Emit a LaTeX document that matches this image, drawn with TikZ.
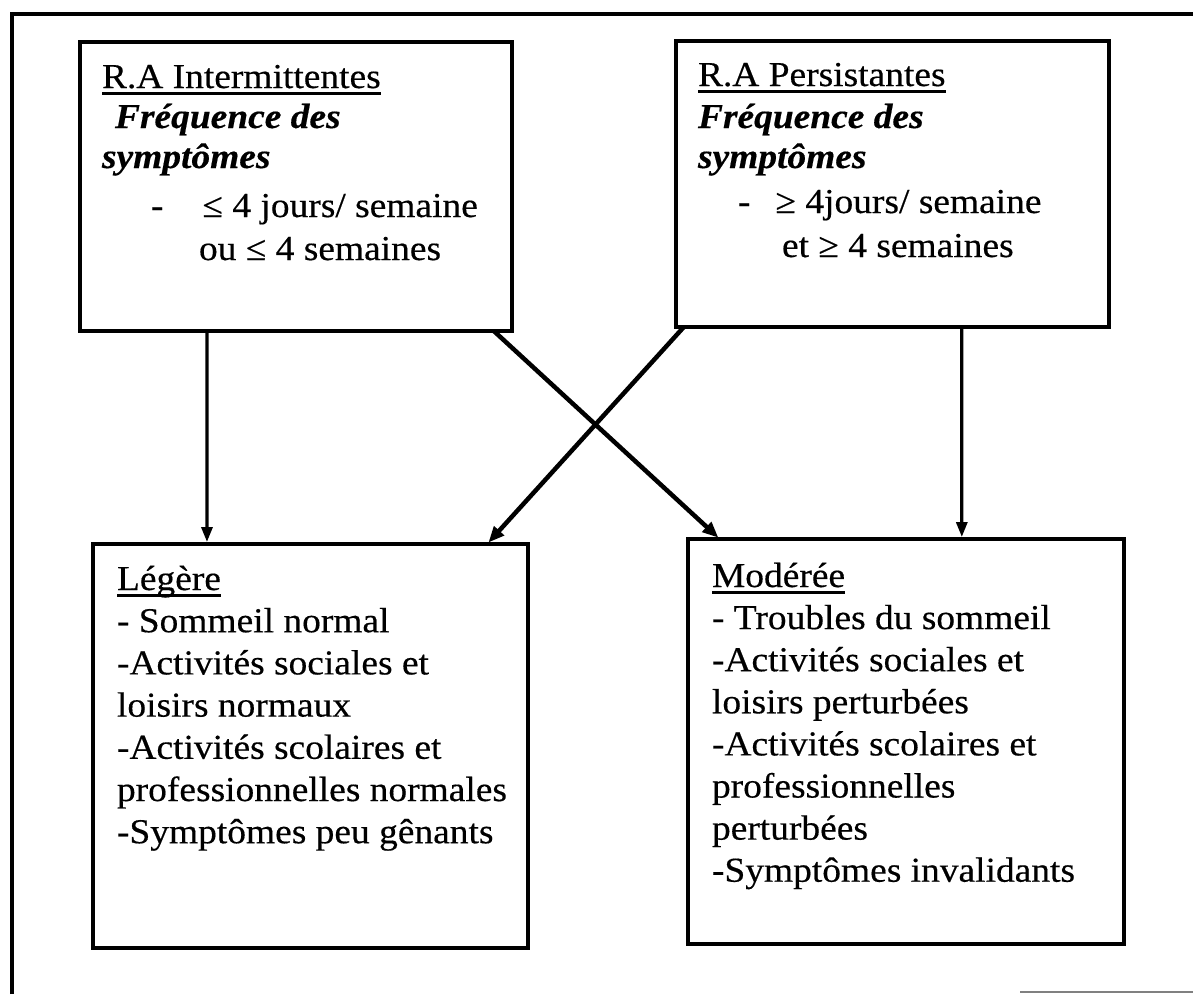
\documentclass[tikz,border=0pt]{standalone}
\usepackage{fontspec}
\setmainfont{Liberation Serif}[FakeStretch=1.07,FakeBold=0.4]
\usetikzlibrary{arrows.meta,calc}
\newsavebox\ulinebox
\newcommand\ulin[1]{\sbox\ulinebox{#1}\rlap{\rule[-6.8pt]{\wd\ulinebox}{3pt}}\usebox\ulinebox}
\tikzset{
  boxnode/.style={draw=black, line width=4pt, fill=none, inner sep=0pt, outer sep=0pt},
  txtnode/.style={anchor=base west, inner sep=0pt, outer sep=0pt, align=left},
  varr/.style={line width=3.2pt, -{Triangle[length=15pt,width=11pt]}, shorten >=2pt},
  darr/.style={line width=4.5pt, -{Triangle[length=16pt,width=13pt]}, shorten >=2pt},
  framel/.style={line width=3.8pt}
}
\begin{document}
\begin{tikzpicture}[x=1pt,y=-1pt]
\useasboundingbox[fill=white] (0,0) rectangle (1193,994);
% outer frame (partially visible)
\draw[framel] (12,994) -- (12,14) -- (1193,14);
\draw[line width=2.5pt, gray] (1020,992) -- (1193,992);

% boxes
\node[boxnode, minimum width=432pt, minimum height=289pt] (TL) at (296,186.5) {};
\node[boxnode, minimum width=433pt, minimum height=286pt] (TR) at (892.5,184) {};
\node[boxnode, minimum width=435pt, minimum height=404pt] (BL) at (310.5,746) {};
\node[boxnode, minimum width=436pt, minimum height=405pt] (BR) at (906,741.5) {};

% texts
\node[txtnode] (TLt) at ($(TL.north west)+(22,46)$) {\fontsize{35}{40}\selectfont\vtop{%
  \hbox{\ulin{R.A Intermittentes}}
  \hbox{\hspace*{13pt}\textbf{\textit{Fréquence des}}}
  \hbox{\textbf{\textit{symptômes}}}
  \vskip 9pt
  \hbox{\hspace*{49pt}-\hspace*{39pt}≤ 4 jours/ semaine}
  \vskip 3pt
  \hbox{\hspace*{97pt}ou ≤ 4 semaines}}};

\node[txtnode] (TRt) at ($(TR.north west)+(22,45)$) {\fontsize{35}{40}\selectfont\vtop{%
  \hbox{\ulin{R.A Persistantes}}
  \vskip 2pt
  \hbox{\textbf{\textit{Fréquence des}}}
  \hbox{\textbf{\textit{symptômes}}}
  \vskip 5pt
  \hbox{\hspace*{40pt}-\hspace*{25pt}≥ 4jours/ semaine}
  \vskip 4pt
  \hbox{\hspace*{84pt}et ≥ 4 semaines}}};

\node[txtnode] (BLt) at ($(BL.north west)+(24,46)$) {\fontsize{35}{42.2}\selectfont\vtop{%
  \hbox{\ulin{Légère}}
  \hbox{- Sommeil normal}
  \hbox{-Activités sociales et}
  \hbox{loisirs normaux}
  \hbox{-Activités scolaires et}
  \hbox{professionnelles normales}
  \hbox{-Symptômes peu gênants}}};

\node[txtnode] (BRt) at ($(BR.north west)+(24,48)$) {\fontsize{35}{42.1}\selectfont\vtop{%
  \hbox{\ulin{Modérée}}
  \hbox{- Troubles du sommeil}
  \hbox{-Activités sociales et}
  \hbox{loisirs perturbées}
  \hbox{-Activités scolaires et}
  \hbox{professionnelles}
  \hbox{perturbées}
  \hbox{-Symptômes invalidants}}};

% connectors
\draw[varr] ($(TL.south west)!0.294!(TL.south east)$) -- ($(BL.north west)!0.262!(BL.north east)$);
\draw[darr] ($(TL.south west)!0.958!(TL.south east)$) -- ($(BR.north west)!0.073!(BR.north east)$);
\draw[darr] ($(TR.south west)!0.018!(TR.south east)$) -- ($(BL.north west)!0.906!(BL.north east)$);
\draw[varr] ($(TR.south west)!0.66!(TR.south east)$) -- ($(BR.north west)!0.628!(BR.north east)$);
\end{tikzpicture}
\end{document}
